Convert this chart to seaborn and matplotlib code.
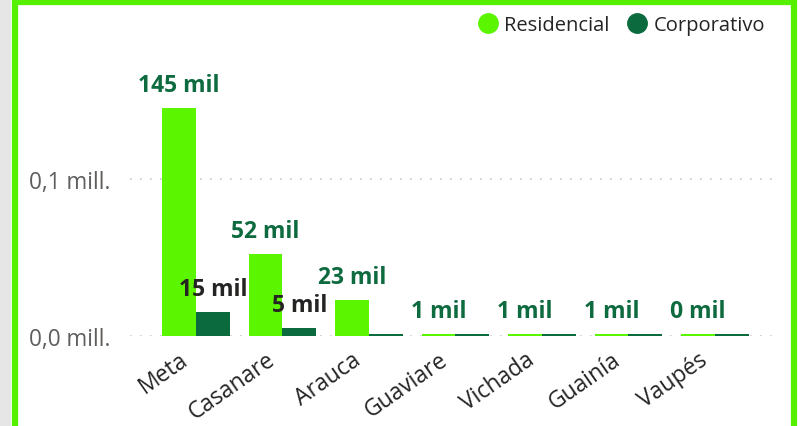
import numpy as np
import pandas as pd
import matplotlib
matplotlib.use("Agg")
import matplotlib.pyplot as plt
import matplotlib.transforms as mtrans
import seaborn as sns
from matplotlib.patches import Rectangle
from matplotlib.lines import Line2D

departamentos = ["Meta", "Casanare", "Arauca", "Guaviare", "Vichada", "Guainía", "Vaupés"]
residencial = [145000, 52000, 23000, 1300, 1000, 1000, 1000]
corporativo = [15000, 5000, 1500, 1100, 1100, 1100, 1100]
res_labels = ["145 mil", "52 mil", "23 mil", "1 mil", "1 mil", "1 mil", "0 mil"]
corp_labels = ["15 mil", "5 mil", "", "", "", "", ""]
yticks = [0, 100000]
ytick_labels = ["0,0 mill.", "0,1 mill."]

c_res = "#5CF500"
c_corp = "#0B6B3E"

df = pd.DataFrame({
    "depto": departamentos * 2,
    "valor": residencial + corporativo,
    "tipo": ["Residencial"] * 7 + ["Corporativo"] * 7,
})

sns.set_style("white")
plt.rcParams["font.family"] = ["Open Sans", "DejaVu Sans"]

fig = plt.figure(figsize=(8.03, 4.27), dpi=100)
fig.patch.set_facecolor("white")

# grey strip + green frame like the dashboard card
fig.patches.append(Rectangle((0, 0), 11 / 803, 1, transform=fig.transFigure,
                             facecolor="#E6E6E6", edgecolor="none", zorder=0))
fig.patches.append(Rectangle((15 / 803, -0.05), 779 / 803, 1.05 - 3 / 427,
                             transform=fig.transFigure, facecolor="none",
                             edgecolor="#55F000", linewidth=4.5, zorder=5))

ax = fig.add_axes([130 / 803, 90 / 427, 648 / 803, 282.6 / 427])
sns.barplot(data=df, x="depto", y="valor", hue="tipo", ax=ax,
            palette=[c_res, c_corp], width=0.78, saturation=1, legend=False,
            linewidth=0)

ax.set_xlim(-0.763, 6.73)
ax.set_ylim(0, 180000)
ax.set_yticks(yticks)
ax.set_yticklabels(ytick_labels, fontsize=16.3, color="#605E5C")
ax.tick_params(axis="y", length=0, pad=14)
ax.tick_params(axis="x", length=0, pad=8)
shift = mtrans.ScaledTranslation(-17 / 100, 0, fig.dpi_scale_trans)
for lab in ax.get_xticklabels():
    lab.set_rotation(35)
    lab.set_ha("right")
    lab.set_rotation_mode("anchor")
    lab.set_fontsize(16.5)
    lab.set_color("#252423")
    lab.set_transform(lab.get_transform() + shift)
for y in yticks:
    ax.axhline(y, color="#C8C8C8", linestyle=(0, (1, 5)), linewidth=1.2, zorder=0)
for s in ax.spines.values():
    s.set_visible(False)
ax.set_xlabel("")
ax.set_ylabel("")

ax.bar_label(ax.containers[0], labels=res_labels, padding=8, fontsize=16.5,
             fontweight="bold", color="#0E6B3F")
ax.bar_label(ax.containers[1], labels=corp_labels, padding=8, fontsize=16.5,
             fontweight="bold", color="#252423")

handles = [Line2D([], [], marker="o", linestyle="", markersize=14, color=c_res),
           Line2D([], [], marker="o", linestyle="", markersize=14, color=c_corp)]
fig.legend(handles, ["Residencial", "Corporativo"], loc="upper right",
           bbox_to_anchor=(783 / 803, 1 + 2 / 427), ncol=2, frameon=False,
           fontsize=14.5, handletextpad=-0.2, columnspacing=0.4,
           labelcolor="#252423")

fig.savefig("out.png", dpi=100)
